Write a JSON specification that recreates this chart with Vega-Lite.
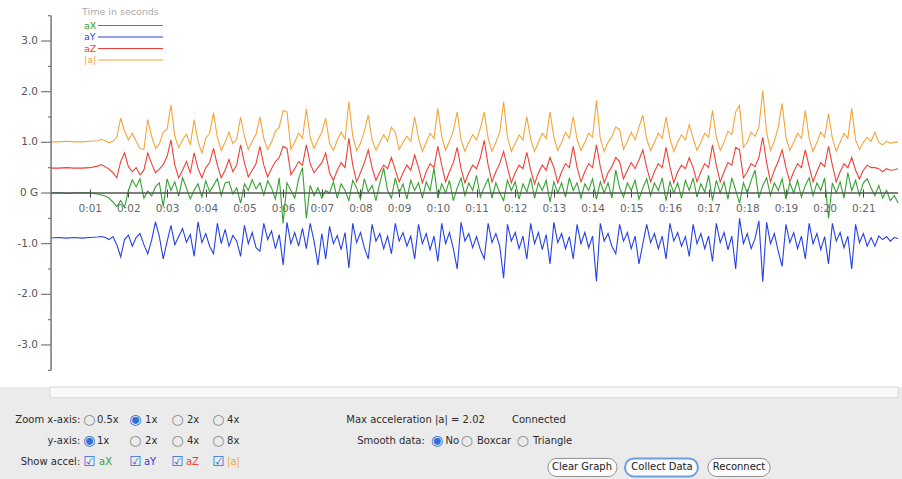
{
  "$schema": "https://vega.github.io/schema/vega-lite/v6.json",
  "padding": 0,
  "spacing": 0,
  "bounds": "flush",
  "background": "white",
  "config": {"view": {"stroke": null}, "font": "DejaVu Sans"},
  "resolve": {"scale": {"x": "independent", "y": "independent", "color": "independent"}, "legend": {"color": "independent"}},
  "datasets": {
    "accel": [
      {"t":0,"aX":0,"aY":-0.89,"aZ":0.49,"|a|":1.01},
      {"t":0.2,"aX":0.01,"aY":-0.88,"aZ":0.49,"|a|":1.01},
      {"t":0.4,"aX":-0.01,"aY":-0.89,"aZ":0.5,"|a|":1.02},
      {"t":0.6,"aX":0,"aY":-0.88,"aZ":0.49,"|a|":1.01},
      {"t":0.8,"aX":0.01,"aY":-0.89,"aZ":0.49,"|a|":1.01},
      {"t":1.0,"aX":0,"aY":-0.88,"aZ":0.5,"|a|":1.02},
      {"t":1.2,"aX":-0.02,"aY":-0.87,"aZ":0.53,"|a|":1.03},
      {"t":1.3,"aX":-0.04,"aY":-0.86,"aZ":0.56,"|a|":1.06},
      {"t":1.4,"aX":-0.06,"aY":-0.88,"aZ":0.52,"|a|":1.03},
      {"t":1.5,"aX":-0.1,"aY":-0.92,"aZ":0.47,"|a|":0.99},
      {"t":1.6,"aX":-0.18,"aY":-0.86,"aZ":0.4,"|a|":1.02},
      {"t":1.7,"aX":-0.27,"aY":-1.02,"aZ":0.3,"|a|":1.1},
      {"t":1.8,"aX":-0.15,"aY":-1.26,"aZ":0.62,"|a|":1.48},
      {"t":1.9,"aX":-0.28,"aY":-0.92,"aZ":0.79,"|a|":1.22},
      {"t":2.0,"aX":0.05,"aY":-0.83,"aZ":0.52,"|a|":1.05},
      {"t":2.1,"aX":0.26,"aY":-1.05,"aZ":0.42,"|a|":1.18},
      {"t":2.2,"aX":0.12,"aY":-0.88,"aZ":0.5,"|a|":1.02},
      {"t":2.3,"aX":0.28,"aY":-0.8,"aZ":0.36,"|a|":0.88},
      {"t":2.4,"aX":-0.1,"aY":-1.02,"aZ":0.45,"|a|":0.86},
      {"t":2.5,"aX":0.04,"aY":-1.2,"aZ":0.79,"|a|":1.45},
      {"t":2.6,"aX":-0.06,"aY":-0.93,"aZ":0.58,"|a|":1.12},
      {"t":2.7,"aX":0.12,"aY":-0.57,"aZ":0.4,"|a|":0.88},
      {"t":2.8,"aX":0.2,"aY":-0.86,"aZ":0.47,"|a|":0.97},
      {"t":2.9,"aX":-0.27,"aY":-1.3,"aZ":0.56,"|a|":1.2},
      {"t":3.0,"aX":0.28,"aY":-0.96,"aZ":0.72,"|a|":1.26},
      {"t":3.1,"aX":0.05,"aY":-0.64,"aZ":1.05,"|a|":1.74},
      {"t":3.2,"aX":0.22,"aY":-1.02,"aZ":0.55,"|a|":1.12},
      {"t":3.3,"aX":-0.06,"aY":-0.86,"aZ":0.3,"|a|":0.9},
      {"t":3.4,"aX":0.3,"aY":-0.7,"aZ":0.45,"|a|":1.05},
      {"t":3.5,"aX":0.1,"aY":-0.97,"aZ":0.62,"|a|":1.16},
      {"t":3.6,"aX":-0.12,"aY":-0.82,"aZ":0.4,"|a|":0.95},
      {"t":3.7,"aX":0.06,"aY":-1.25,"aZ":0.79,"|a|":1.45},
      {"t":3.8,"aX":0.18,"aY":-0.57,"aZ":0.48,"|a|":1.02},
      {"t":3.9,"aX":-0.08,"aY":-0.98,"aZ":0.3,"|a|":0.79},
      {"t":4.0,"aX":0.24,"aY":-0.8,"aZ":0.5,"|a|":1.08},
      {"t":4.1,"aX":0.02,"aY":-1.05,"aZ":0.6,"|a|":1.18},
      {"t":4.2,"aX":0.15,"aY":-1.2,"aZ":0.88,"|a|":1.58},
      {"t":4.3,"aX":0.28,"aY":-0.6,"aZ":0.55,"|a|":1.1},
      {"t":4.4,"aX":-0.05,"aY":-1.0,"aZ":0.3,"|a|":0.84},
      {"t":4.5,"aX":0.2,"aY":-0.72,"aZ":0.45,"|a|":1.0},
      {"t":4.6,"aX":0.22,"aY":-1.05,"aZ":0.66,"|a|":1.2},
      {"t":4.7,"aX":-0.02,"aY":-0.84,"aZ":0.42,"|a|":0.98},
      {"t":4.8,"aX":0.1,"aY":-0.95,"aZ":0.55,"|a|":1.06},
      {"t":4.9,"aX":-0.2,"aY":-1.25,"aZ":0.95,"|a|":1.5},
      {"t":5.0,"aX":0.18,"aY":-0.64,"aZ":0.6,"|a|":1.12},
      {"t":5.1,"aX":0.05,"aY":-1.0,"aZ":0.32,"|a|":0.86},
      {"t":5.2,"aX":0.26,"aY":-0.78,"aZ":0.45,"|a|":1.02},
      {"t":5.3,"aX":0.08,"aY":-1.08,"aZ":0.58,"|a|":1.16},
      {"t":5.4,"aX":0.2,"aY":-1.15,"aZ":0.92,"|a|":1.5},
      {"t":5.5,"aX":-0.04,"aY":-0.6,"aZ":0.55,"|a|":1.08},
      {"t":5.6,"aX":0.24,"aY":-0.92,"aZ":0.32,"|a|":0.86},
      {"t":5.7,"aX":0.1,"aY":-0.75,"aZ":0.48,"|a|":1.0},
      {"t":5.8,"aX":-0.12,"aY":-1.1,"aZ":0.62,"|a|":1.22},
      {"t":5.9,"aX":0.3,"aY":-0.82,"aZ":0.7,"|a|":1.3},
      {"t":6.0,"aX":-0.6,"aY":-1.42,"aZ":0.92,"|a|":1.63},
      {"t":6.1,"aX":0.2,"aY":-0.58,"aZ":0.88,"|a|":1.6},
      {"t":6.2,"aX":0.05,"aY":-1.0,"aZ":0.36,"|a|":0.86},
      {"t":6.3,"aX":-0.1,"aY":-0.78,"aZ":0.48,"|a|":1.0},
      {"t":6.4,"aX":0.28,"aY":-1.05,"aZ":0.62,"|a|":1.18},
      {"t":6.5,"aX":0.5,"aY":-0.7,"aZ":0.55,"|a|":1.08},
      {"t":6.6,"aX":-0.5,"aY":-1.1,"aZ":0.95,"|a|":1.66},
      {"t":6.7,"aX":0.15,"aY":-0.6,"aZ":0.58,"|a|":1.1},
      {"t":6.8,"aX":-0.05,"aY":-0.95,"aZ":0.4,"|a|":0.88},
      {"t":6.9,"aX":0.1,"aY":-1.42,"aZ":0.5,"|a|":1.05},
      {"t":7.0,"aX":-0.1,"aY":-0.8,"aZ":0.6,"|a|":1.2},
      {"t":7.1,"aX":0.05,"aY":-1.3,"aZ":0.79,"|a|":1.48},
      {"t":7.2,"aX":0,"aY":-0.66,"aZ":0.4,"|a|":0.98},
      {"t":7.3,"aX":0.22,"aY":-1.0,"aZ":0.25,"|a|":0.84},
      {"t":7.4,"aX":-0.1,"aY":-0.84,"aZ":0.45,"|a|":1.04},
      {"t":7.5,"aX":0.18,"aY":-1.12,"aZ":0.6,"|a|":1.2},
      {"t":7.6,"aX":0.05,"aY":-0.78,"aZ":0.5,"|a|":1.06},
      {"t":7.7,"aX":-0.15,"aY":-1.48,"aZ":1.08,"|a|":1.8},
      {"t":7.8,"aX":0.25,"aY":-0.6,"aZ":0.55,"|a|":1.12},
      {"t":7.9,"aX":0.1,"aY":-0.98,"aZ":0.22,"|a|":0.84},
      {"t":8.0,"aX":-0.12,"aY":-0.78,"aZ":0.4,"|a|":0.98},
      {"t":8.1,"aX":0.28,"aY":-1.08,"aZ":0.6,"|a|":1.22},
      {"t":8.2,"aX":0.02,"aY":-1.3,"aZ":0.85,"|a|":1.54},
      {"t":8.3,"aX":0.15,"aY":-0.62,"aZ":0.5,"|a|":1.05},
      {"t":8.4,"aX":-0.15,"aY":-0.95,"aZ":0.25,"|a|":0.84},
      {"t":8.5,"aX":0.2,"aY":-0.8,"aZ":0.42,"|a|":1.0},
      {"t":8.6,"aX":0.49,"aY":-1.1,"aZ":0.55,"|a|":1.15},
      {"t":8.7,"aX":0.05,"aY":-0.85,"aZ":0.48,"|a|":1.02},
      {"t":8.8,"aX":-0.1,"aY":-1.2,"aZ":0.7,"|a|":1.3},
      {"t":8.9,"aX":0.3,"aY":-0.6,"aZ":0.45,"|a|":1.2},
      {"t":9.0,"aX":0,"aY":-0.95,"aZ":0.22,"|a|":0.86},
      {"t":9.1,"aX":0.18,"aY":-0.78,"aZ":0.4,"|a|":1.0},
      {"t":9.2,"aX":-0.12,"aY":-1.05,"aZ":0.55,"|a|":1.12},
      {"t":9.3,"aX":0.25,"aY":-0.85,"aZ":0.45,"|a|":1.02},
      {"t":9.4,"aX":0.05,"aY":-1.3,"aZ":0.75,"|a|":1.51},
      {"t":9.5,"aX":0.2,"aY":-0.62,"aZ":0.5,"|a|":1.08},
      {"t":9.6,"aX":-0.1,"aY":-1.0,"aZ":0.2,"|a|":0.82},
      {"t":9.7,"aX":0.22,"aY":-0.8,"aZ":0.42,"|a|":1.0},
      {"t":9.8,"aX":0.05,"aY":-1.12,"aZ":0.58,"|a|":1.18},
      {"t":9.9,"aX":0.49,"aY":-0.85,"aZ":0.5,"|a|":1.08},
      {"t":10.0,"aX":-0.1,"aY":-1.35,"aZ":0.92,"|a|":1.67},
      {"t":10.1,"aX":0.18,"aY":-0.6,"aZ":0.55,"|a|":1.12},
      {"t":10.2,"aX":0,"aY":-1.0,"aZ":0.22,"|a|":0.84},
      {"t":10.3,"aX":0.25,"aY":-0.78,"aZ":0.42,"|a|":1.02},
      {"t":10.4,"aX":-0.15,"aY":-1.1,"aZ":0.6,"|a|":1.22},
      {"t":10.5,"aX":0.1,"aY":-1.5,"aZ":0.9,"|a|":1.6},
      {"t":10.6,"aX":0.3,"aY":-0.58,"aZ":0.48,"|a|":1.05},
      {"t":10.7,"aX":-0.05,"aY":-0.95,"aZ":0.2,"|a|":0.82},
      {"t":10.8,"aX":0.2,"aY":-0.8,"aZ":0.4,"|a|":1.0},
      {"t":10.9,"aX":0.05,"aY":-1.08,"aZ":0.55,"|a|":1.15},
      {"t":11.0,"aX":0.35,"aY":-0.86,"aZ":0.48,"|a|":1.05},
      {"t":11.1,"aX":-0.08,"aY":-1.12,"aZ":0.7,"|a|":1.28},
      {"t":11.2,"aX":0.12,"aY":-1.3,"aZ":1.04,"|a|":1.6},
      {"t":11.3,"aX":0.28,"aY":-0.6,"aZ":0.55,"|a|":1.08},
      {"t":11.4,"aX":-0.1,"aY":-0.98,"aZ":0.22,"|a|":0.82},
      {"t":11.5,"aX":0.2,"aY":-0.8,"aZ":0.42,"|a|":1.0},
      {"t":11.6,"aX":0,"aY":-1.05,"aZ":0.58,"|a|":1.2},
      {"t":11.7,"aX":-0.15,"aY":-1.68,"aZ":0.82,"|a|":1.8},
      {"t":11.8,"aX":0.25,"aY":-0.62,"aZ":0.5,"|a|":1.1},
      {"t":11.9,"aX":0.05,"aY":-0.95,"aZ":0.2,"|a|":0.82},
      {"t":12.0,"aX":0.22,"aY":-0.78,"aZ":0.4,"|a|":0.98},
      {"t":12.1,"aX":-0.12,"aY":-1.1,"aZ":0.55,"|a|":1.15},
      {"t":12.2,"aX":0.18,"aY":-0.85,"aZ":0.48,"|a|":1.05},
      {"t":12.3,"aX":0.02,"aY":-1.3,"aZ":0.8,"|a|":1.51},
      {"t":12.4,"aX":0.3,"aY":-0.6,"aZ":0.45,"|a|":1.06},
      {"t":12.5,"aX":-0.1,"aY":-1.0,"aZ":0.18,"|a|":0.82},
      {"t":12.6,"aX":0.2,"aY":-0.78,"aZ":0.4,"|a|":1.0},
      {"t":12.7,"aX":0.05,"aY":-1.12,"aZ":0.55,"|a|":1.18},
      {"t":12.8,"aX":0.25,"aY":-0.82,"aZ":0.45,"|a|":1.08},
      {"t":12.9,"aX":-0.18,"aY":-1.4,"aZ":0.7,"|a|":1.6},
      {"t":13.0,"aX":0.22,"aY":-0.58,"aZ":0.5,"|a|":1.1},
      {"t":13.1,"aX":0,"aY":-0.98,"aZ":0.2,"|a|":0.84},
      {"t":13.2,"aX":0.2,"aY":-0.8,"aZ":0.42,"|a|":1.0},
      {"t":13.3,"aX":-0.08,"aY":-1.1,"aZ":0.58,"|a|":1.2},
      {"t":13.4,"aX":0.3,"aY":-0.86,"aZ":0.5,"|a|":1.08},
      {"t":13.5,"aX":0.05,"aY":-1.3,"aZ":0.92,"|a|":1.51},
      {"t":13.6,"aX":0.2,"aY":-0.62,"aZ":0.5,"|a|":1.06},
      {"t":13.7,"aX":-0.1,"aY":-1.0,"aZ":0.22,"|a|":0.84},
      {"t":13.8,"aX":0.18,"aY":-0.78,"aZ":0.42,"|a|":1.0},
      {"t":13.9,"aX":0.05,"aY":-1.08,"aZ":0.58,"|a|":1.18},
      {"t":14.0,"aX":0.28,"aY":-0.85,"aZ":0.5,"|a|":1.1},
      {"t":14.1,"aX":-0.12,"aY":-1.74,"aZ":0.95,"|a|":1.83},
      {"t":14.2,"aX":0.22,"aY":-0.6,"aZ":0.52,"|a|":1.08},
      {"t":14.3,"aX":0,"aY":-0.95,"aZ":0.2,"|a|":0.82},
      {"t":14.4,"aX":0.2,"aY":-0.8,"aZ":0.4,"|a|":1.0},
      {"t":14.5,"aX":-0.1,"aY":-1.05,"aZ":0.52,"|a|":1.12},
      {"t":14.6,"aX":0.45,"aY":-1.2,"aZ":0.7,"|a|":1.3},
      {"t":14.7,"aX":0.1,"aY":-0.62,"aZ":0.62,"|a|":1.25},
      {"t":14.8,"aX":-0.08,"aY":-0.95,"aZ":0.28,"|a|":0.86},
      {"t":14.9,"aX":0.2,"aY":-0.78,"aZ":0.45,"|a|":1.02},
      {"t":15.0,"aX":0.05,"aY":-1.1,"aZ":0.6,"|a|":1.2},
      {"t":15.1,"aX":0.25,"aY":-0.85,"aZ":0.48,"|a|":1.05},
      {"t":15.2,"aX":-0.12,"aY":-1.4,"aZ":0.65,"|a|":1.3},
      {"t":15.3,"aX":0.1,"aY":-1.0,"aZ":0.85,"|a|":1.54},
      {"t":15.4,"aX":0.28,"aY":-0.62,"aZ":0.5,"|a|":1.06},
      {"t":15.5,"aX":-0.05,"aY":-0.98,"aZ":0.22,"|a|":0.84},
      {"t":15.6,"aX":0.2,"aY":-0.8,"aZ":0.42,"|a|":1.0},
      {"t":15.7,"aX":0.05,"aY":-1.1,"aZ":0.58,"|a|":1.18},
      {"t":15.8,"aX":0.3,"aY":-0.85,"aZ":0.5,"|a|":1.08},
      {"t":15.9,"aX":-0.15,"aY":-1.3,"aZ":0.9,"|a|":1.5},
      {"t":16.0,"aX":0.22,"aY":-0.6,"aZ":0.52,"|a|":1.08},
      {"t":16.1,"aX":0,"aY":-0.95,"aZ":0.2,"|a|":0.82},
      {"t":16.2,"aX":0.2,"aY":-0.78,"aZ":0.42,"|a|":1.0},
      {"t":16.3,"aX":-0.1,"aY":-1.05,"aZ":0.55,"|a|":1.15},
      {"t":16.4,"aX":0.25,"aY":-0.86,"aZ":0.48,"|a|":1.05},
      {"t":16.5,"aX":0.05,"aY":-1.25,"aZ":0.7,"|a|":1.35},
      {"t":16.6,"aX":0.3,"aY":-0.62,"aZ":0.5,"|a|":1.08},
      {"t":16.7,"aX":-0.08,"aY":-1.0,"aZ":0.22,"|a|":0.84},
      {"t":16.8,"aX":0.18,"aY":-0.8,"aZ":0.42,"|a|":1.0},
      {"t":16.9,"aX":0.02,"aY":-1.1,"aZ":0.58,"|a|":1.18},
      {"t":17.0,"aX":0.35,"aY":-0.85,"aZ":0.5,"|a|":1.1},
      {"t":17.1,"aX":-0.15,"aY":-1.35,"aZ":0.95,"|a|":1.63},
      {"t":17.2,"aX":0.25,"aY":-0.6,"aZ":0.55,"|a|":1.1},
      {"t":17.3,"aX":0,"aY":-0.98,"aZ":0.22,"|a|":0.84},
      {"t":17.4,"aX":0.22,"aY":-0.78,"aZ":0.42,"|a|":1.0},
      {"t":17.5,"aX":-0.12,"aY":-1.12,"aZ":0.6,"|a|":1.22},
      {"t":17.6,"aX":0.3,"aY":-0.85,"aZ":0.55,"|a|":1.15},
      {"t":17.7,"aX":0.05,"aY":-1.5,"aZ":0.9,"|a|":1.6},
      {"t":17.8,"aX":-0.2,"aY":-0.5,"aZ":0.85,"|a|":1.73},
      {"t":17.9,"aX":0.2,"aY":-1.0,"aZ":0.3,"|a|":0.9},
      {"t":18.0,"aX":0,"aY":-0.8,"aZ":0.42,"|a|":1.0},
      {"t":18.1,"aX":0.25,"aY":-1.1,"aZ":0.58,"|a|":1.2},
      {"t":18.2,"aX":0.45,"aY":-0.9,"aZ":0.52,"|a|":1.12},
      {"t":18.3,"aX":-0.1,"aY":-0.55,"aZ":0.7,"|a|":1.3},
      {"t":18.4,"aX":0.15,"aY":-1.75,"aZ":1.1,"|a|":2.02},
      {"t":18.5,"aX":0.3,"aY":-0.58,"aZ":0.6,"|a|":1.2},
      {"t":18.6,"aX":-0.05,"aY":-1.0,"aZ":0.22,"|a|":0.84},
      {"t":18.7,"aX":0.2,"aY":-0.8,"aZ":0.45,"|a|":1.02},
      {"t":18.8,"aX":0.05,"aY":-1.15,"aZ":0.62,"|a|":1.3},
      {"t":18.9,"aX":0.28,"aY":-1.45,"aZ":0.85,"|a|":1.77},
      {"t":19.0,"aX":-0.12,"aY":-0.62,"aZ":0.5,"|a|":1.1},
      {"t":19.1,"aX":0.2,"aY":-0.98,"aZ":0.22,"|a|":0.84},
      {"t":19.2,"aX":0,"aY":-0.78,"aZ":0.42,"|a|":1.0},
      {"t":19.3,"aX":0.25,"aY":-1.1,"aZ":0.58,"|a|":1.18},
      {"t":19.4,"aX":-0.08,"aY":-0.85,"aZ":0.5,"|a|":1.08},
      {"t":19.5,"aX":0.15,"aY":-1.3,"aZ":0.85,"|a|":1.63},
      {"t":19.6,"aX":0.3,"aY":-0.6,"aZ":0.52,"|a|":1.08},
      {"t":19.7,"aX":-0.05,"aY":-1.0,"aZ":0.22,"|a|":0.82},
      {"t":19.8,"aX":0.2,"aY":-0.8,"aZ":0.42,"|a|":1.0},
      {"t":19.9,"aX":0.05,"aY":-1.12,"aZ":0.6,"|a|":1.2},
      {"t":20.0,"aX":0.3,"aY":-0.86,"aZ":0.52,"|a|":1.1},
      {"t":20.1,"aX":-0.5,"aY":-1.4,"aZ":0.92,"|a|":1.57},
      {"t":20.2,"aX":0.2,"aY":-0.6,"aZ":0.55,"|a|":1.08},
      {"t":20.3,"aX":0,"aY":-0.95,"aZ":0.22,"|a|":0.82},
      {"t":20.4,"aX":0.22,"aY":-0.78,"aZ":0.42,"|a|":1.0},
      {"t":20.5,"aX":-0.1,"aY":-1.08,"aZ":0.58,"|a|":1.18},
      {"t":20.6,"aX":0.4,"aY":-0.85,"aZ":0.5,"|a|":1.08},
      {"t":20.7,"aX":0.05,"aY":-1.5,"aZ":0.7,"|a|":1.67},
      {"t":20.8,"aX":0.25,"aY":-0.62,"aZ":0.45,"|a|":1.05},
      {"t":20.9,"aX":-0.05,"aY":-0.98,"aZ":0.28,"|a|":0.86},
      {"t":21.0,"aX":0.2,"aY":-0.8,"aZ":0.45,"|a|":1.0},
      {"t":21.1,"aX":0.28,"aY":-1.05,"aZ":0.55,"|a|":1.1},
      {"t":21.2,"aX":0.1,"aY":-0.88,"aZ":0.5,"|a|":1.02},
      {"t":21.3,"aX":-0.05,"aY":-1.05,"aZ":0.5,"|a|":1.2},
      {"t":21.4,"aX":0.15,"aY":-0.85,"aZ":0.48,"|a|":1.0},
      {"t":21.5,"aX":-0.1,"aY":-0.92,"aZ":0.42,"|a|":0.95},
      {"t":21.6,"aX":0.05,"aY":-0.86,"aZ":0.48,"|a|":1.02},
      {"t":21.7,"aX":-0.15,"aY":-0.95,"aZ":0.45,"|a|":0.98},
      {"t":21.8,"aX":-0.05,"aY":-0.88,"aZ":0.46,"|a|":1.0},
      {"t":21.9,"aX":-0.2,"aY":-0.9,"aZ":0.48,"|a|":1.01}
    ],
    "ymajor": [
      {"v":3,"lbl":"3.0"},{"v":2,"lbl":"2.0"},{"v":1,"lbl":"1.0"},{"v":0,"lbl":"0 G"},
      {"v":-1,"lbl":"-1.0"},{"v":-2,"lbl":"-2.0"},{"v":-3,"lbl":"-3.0"}
    ],
    "yminor": [
      {"v":3.5},{"v":2.5},{"v":1.5},{"v":0.5},{"v":-0.5},{"v":-1.5},{"v":-2.5},{"v":-3.5}
    ],
    "panel": [
      {"txt":"Zoom x-axis:","pos":8.9,"line":1,"role":"label"},
      {"txt":"y-axis:","pos":8.9,"line":2,"role":"label"},
      {"txt":"Show accel:","pos":8.9,"line":3,"role":"label"},
      {"txt":"Smooth data:","pos":47.1,"line":2,"role":"label"},
      {"txt":"○","pos":9.92,"line":1,"role":"off"},
      {"txt":"◉","pos":15.02,"line":1,"role":"on"},
      {"txt":"○","pos":19.68,"line":1,"role":"off"},
      {"txt":"○","pos":24.22,"line":1,"role":"off"},
      {"txt":"◉","pos":9.92,"line":2,"role":"on"},
      {"txt":"○","pos":15.02,"line":2,"role":"off"},
      {"txt":"○","pos":19.68,"line":2,"role":"off"},
      {"txt":"○","pos":24.22,"line":2,"role":"off"},
      {"txt":"◉","pos":48.45,"line":2,"role":"on"},
      {"txt":"○","pos":51.77,"line":2,"role":"off"},
      {"txt":"○","pos":57.98,"line":2,"role":"off"},
      {"txt":"☑","pos":9.92,"line":3,"role":"check"},
      {"txt":"☑","pos":15.02,"line":3,"role":"check"},
      {"txt":"☑","pos":19.68,"line":3,"role":"check"},
      {"txt":"☑","pos":24.22,"line":3,"role":"check"},
      {"txt":"0.5x","pos":10.75,"line":1,"role":"text"},
      {"txt":"1x","pos":16.08,"line":1,"role":"text"},
      {"txt":"2x","pos":20.73,"line":1,"role":"text"},
      {"txt":"4x","pos":25.17,"line":1,"role":"text"},
      {"txt":"1x","pos":10.75,"line":2,"role":"text"},
      {"txt":"2x","pos":16.08,"line":2,"role":"text"},
      {"txt":"4x","pos":20.73,"line":2,"role":"text"},
      {"txt":"8x","pos":25.17,"line":2,"role":"text"},
      {"txt":"No","pos":49.4,"line":2,"role":"text"},
      {"txt":"Boxcar","pos":52.88,"line":2,"role":"text"},
      {"txt":"Triangle","pos":59.09,"line":2,"role":"text"},
      {"txt":"Max acceleration |a| = 2.02","pos":38.4,"line":1,"role":"text"},
      {"txt":"Connected","pos":56.76,"line":1,"role":"text"},
      {"txt":"aX","pos":10.98,"line":3,"role":"aX"},
      {"txt":"aY","pos":15.96,"line":3,"role":"aY"},
      {"txt":"aZ","pos":20.62,"line":3,"role":"aZ"},
      {"txt":"|a|","pos":25.17,"line":3,"role":"|a|"},
      {"txt":"Clear Graph","pos":64.52,"x0":60.75,"x1":68.4,"line":3,"role":"button"},
      {"txt":"Collect Data","pos":73.39,"x0":69.29,"x1":77.38,"line":3,"role":"button"},
      {"txt":"Reconnect","pos":81.93,"x0":78.49,"x1":85.37,"line":3,"role":"button"}
    ]
  },
  "vconcat": [
    {
      "width": 902,
      "height": 387,
      "view": {"fill": "white", "stroke": null},
      "layer": [
        {
          "data": {"name": "accel"},
          "transform": [{"fold": ["aX", "aY", "aZ", "|a|"], "as": ["series", "g"]}],
          "mark": {"type": "line", "strokeWidth": 1.1},
          "encoding": {
            "x": {
              "field": "t", "type": "quantitative",
              "scale": {"domain": [-1.32, 22.0], "nice": false, "zero": false},
              "axis": {
                "orient": "bottom", "offset": -198, "domain": false, "grid": false,
                "values": [1,2,3,4,5,6,7,8,9,10,11,12,13,14,15,16,17,18,19,20,21],
                "tickSize": 8, "tickColor": "#444", "tickWidth": 1,
                "labelExpr": "datum.value < 10 ? '0:0' + datum.value : '0:' + datum.value",
                "labelPadding": 6, "labelFontSize": 10.5, "labelColor": "#666", "labelFont": "DejaVu Sans",
                "title": null
              }
            },
            "y": {
              "field": "g", "type": "quantitative",
              "scale": {"domain": [-3.83, 3.81], "nice": false, "zero": false},
              "axis": null
            },
            "color": {
              "field": "series", "type": "nominal",
              "scale": {"domain": ["aX", "aY", "aZ", "|a|"], "range": ["#36a031", "#2641e4", "#ee4136", "#f5a53a"]},
              "legend": {
                "orient": "none", "legendX": 82, "legendY": 7, "direction": "vertical",
                "title": "Time in seconds", "titleFontSize": 9.5, "titleFontWeight": "normal", "titleColor": "#aaaaaa",
                "titleFont": "DejaVu Sans", "titlePadding": 3,
                "symbolType": "M2,0H15", "symbolSize": 100, "symbolStrokeWidth": 1.2,
                "symbolOffset": 0, "labelOffset": -10, "labelAlign": "left",
                "labelFontSize": 9.5, "labelFont": "DejaVu Sans", "rowPadding": 0.5,
                "encode": {"labels": {"update": {"fill": {"signal": "datum.value === 'aX' ? '#36a031' : datum.value === 'aY' ? '#2641e4' : datum.value === 'aZ' ? '#ee4136' : '#f5a53a'"}}}}
              }
            }
          }
        },
        {
          "data": {"name": "ymajor"},
          "mark": {"type": "rule", "color": "#777777", "strokeWidth": 1.2},
          "encoding": {
            "x": {"datum": -0.2585, "type": "quantitative"},
            "x2": {"datum": 0},
            "y": {"field": "v", "type": "quantitative", "axis": null}
          }
        },
        {
          "data": {"name": "yminor"},
          "mark": {"type": "rule", "color": "#777777", "strokeWidth": 1.2},
          "encoding": {
            "x": {"datum": -0.08, "type": "quantitative"},
            "x2": {"datum": 0},
            "y": {"field": "v", "type": "quantitative", "axis": null}
          }
        },
        {
          "data": {"name": "ymajor"},
          "mark": {"type": "text", "align": "right", "baseline": "middle", "fontSize": 10.5, "font": "DejaVu Sans", "color": "#555555", "dx": -3},
          "encoding": {
            "x": {"datum": -0.2585, "type": "quantitative"},
            "y": {"field": "v", "type": "quantitative", "axis": null},
            "text": {"field": "lbl"}
          }
        },
        {
          "data": {"values": [{}]},
          "mark": {"type": "rule", "color": "#777777", "strokeWidth": 1.5},
          "encoding": {
            "x": {"datum": 0, "type": "quantitative"},
            "y": {"datum": -3.5, "type": "quantitative", "axis": null},
            "y2": {"datum": 3.5}
          }
        },
        {
          "data": {"values": [{}]},
          "mark": {"type": "rule", "color": "#555555", "strokeWidth": 1.3},
          "encoding": {
            "x": {"datum": 0, "type": "quantitative"},
            "x2": {"datum": 21.9},
            "y": {"datum": 0, "type": "quantitative", "axis": null}
          }
        }
      ]
    },
    {
      "width": 902,
      "height": 92,
      "view": {"fill": "#ebebeb", "stroke": null},
      "layer": [
        {
          "data": {"values": [{}]},
          "mark": {"type": "rect", "fill": "#f9f9f9", "stroke": "#d6d6d6", "strokeWidth": 1},
          "encoding": {
            "x": {"datum": 5.54, "type": "quantitative", "scale": {"domain": [0, 100], "nice": false, "zero": false}, "axis": null},
            "x2": {"datum": 99.56},
            "y": {"datum": -0.571, "type": "quantitative", "scale": {"domain": [-0.571, 3.81], "nice": false, "zero": false, "reverse": true}, "axis": null},
            "y2": {"datum": -0.06}
          }
        },
        {
          "data": {"name": "panel"},
          "transform": [{"filter": "datum.role === 'button'"}],
          "mark": {"type": "rect", "cornerRadius": 9, "fill": "#fbfbfb"},
          "encoding": {
            "x": {"field": "x0", "type": "quantitative", "axis": null},
            "x2": {"field": "x1"},
            "y": {"datum": 2.83, "type": "quantitative", "axis": null},
            "y2": {"datum": 3.69},
            "stroke": {"condition": {"test": "datum.txt === 'Collect Data'", "value": "#6c9fe0"}, "value": "#8e8e8e"},
            "strokeWidth": {"condition": {"test": "datum.txt === 'Collect Data'", "value": 2}, "value": 1}
          }
        },
        {
          "data": {"name": "panel"},
          "transform": [{"filter": "datum.role === 'label'"}],
          "mark": {"type": "text", "align": "right", "baseline": "middle", "font": "DejaVu Sans", "fontSize": 10, "color": "#2b2b2b"},
          "encoding": {
            "x": {"field": "pos", "type": "quantitative", "axis": null},
            "y": {"field": "line", "type": "quantitative", "axis": null},
            "text": {"field": "txt"}
          }
        },
        {
          "data": {"name": "panel"},
          "transform": [{"filter": "indexof(['text','aX','aY','aZ','|a|'], datum.role) >= 0"}],
          "mark": {"type": "text", "align": "left", "baseline": "middle", "font": "DejaVu Sans", "fontSize": 10},
          "encoding": {
            "x": {"field": "pos", "type": "quantitative", "axis": null},
            "y": {"field": "line", "type": "quantitative", "axis": null},
            "text": {"field": "txt"},
            "color": {
              "field": "role", "type": "nominal", "legend": null,
              "scale": {
                "domain": ["text", "aX", "aY", "aZ", "|a|", "on", "off", "check"],
                "range": ["#2b2b2b", "#36a031", "#2641e4", "#ee4136", "#f5a53a", "#2f6fd6", "#8a8a8a", "#2f6fd6"]
              }
            }
          }
        },
        {
          "data": {"name": "panel"},
          "transform": [{"filter": "indexof(['on','off','check'], datum.role) >= 0"}],
          "mark": {"type": "text", "align": "center", "baseline": "middle", "font": "DejaVu Sans", "fontSize": 14},
          "encoding": {
            "x": {"field": "pos", "type": "quantitative", "axis": null},
            "y": {"field": "line", "type": "quantitative", "axis": null},
            "text": {"field": "txt"},
            "color": {"field": "role", "type": "nominal", "legend": null}
          }
        },
        {
          "data": {"name": "panel"},
          "transform": [{"filter": "datum.role === 'button'"}],
          "mark": {"type": "text", "align": "center", "baseline": "middle", "fontSize": 10, "font": "DejaVu Sans", "dy": 5, "color": "#222222"},
          "encoding": {
            "x": {"field": "pos", "type": "quantitative", "axis": null},
            "y": {"field": "line", "type": "quantitative", "axis": null},
            "text": {"field": "txt"}
          }
        }
      ]
    }
  ]
}
